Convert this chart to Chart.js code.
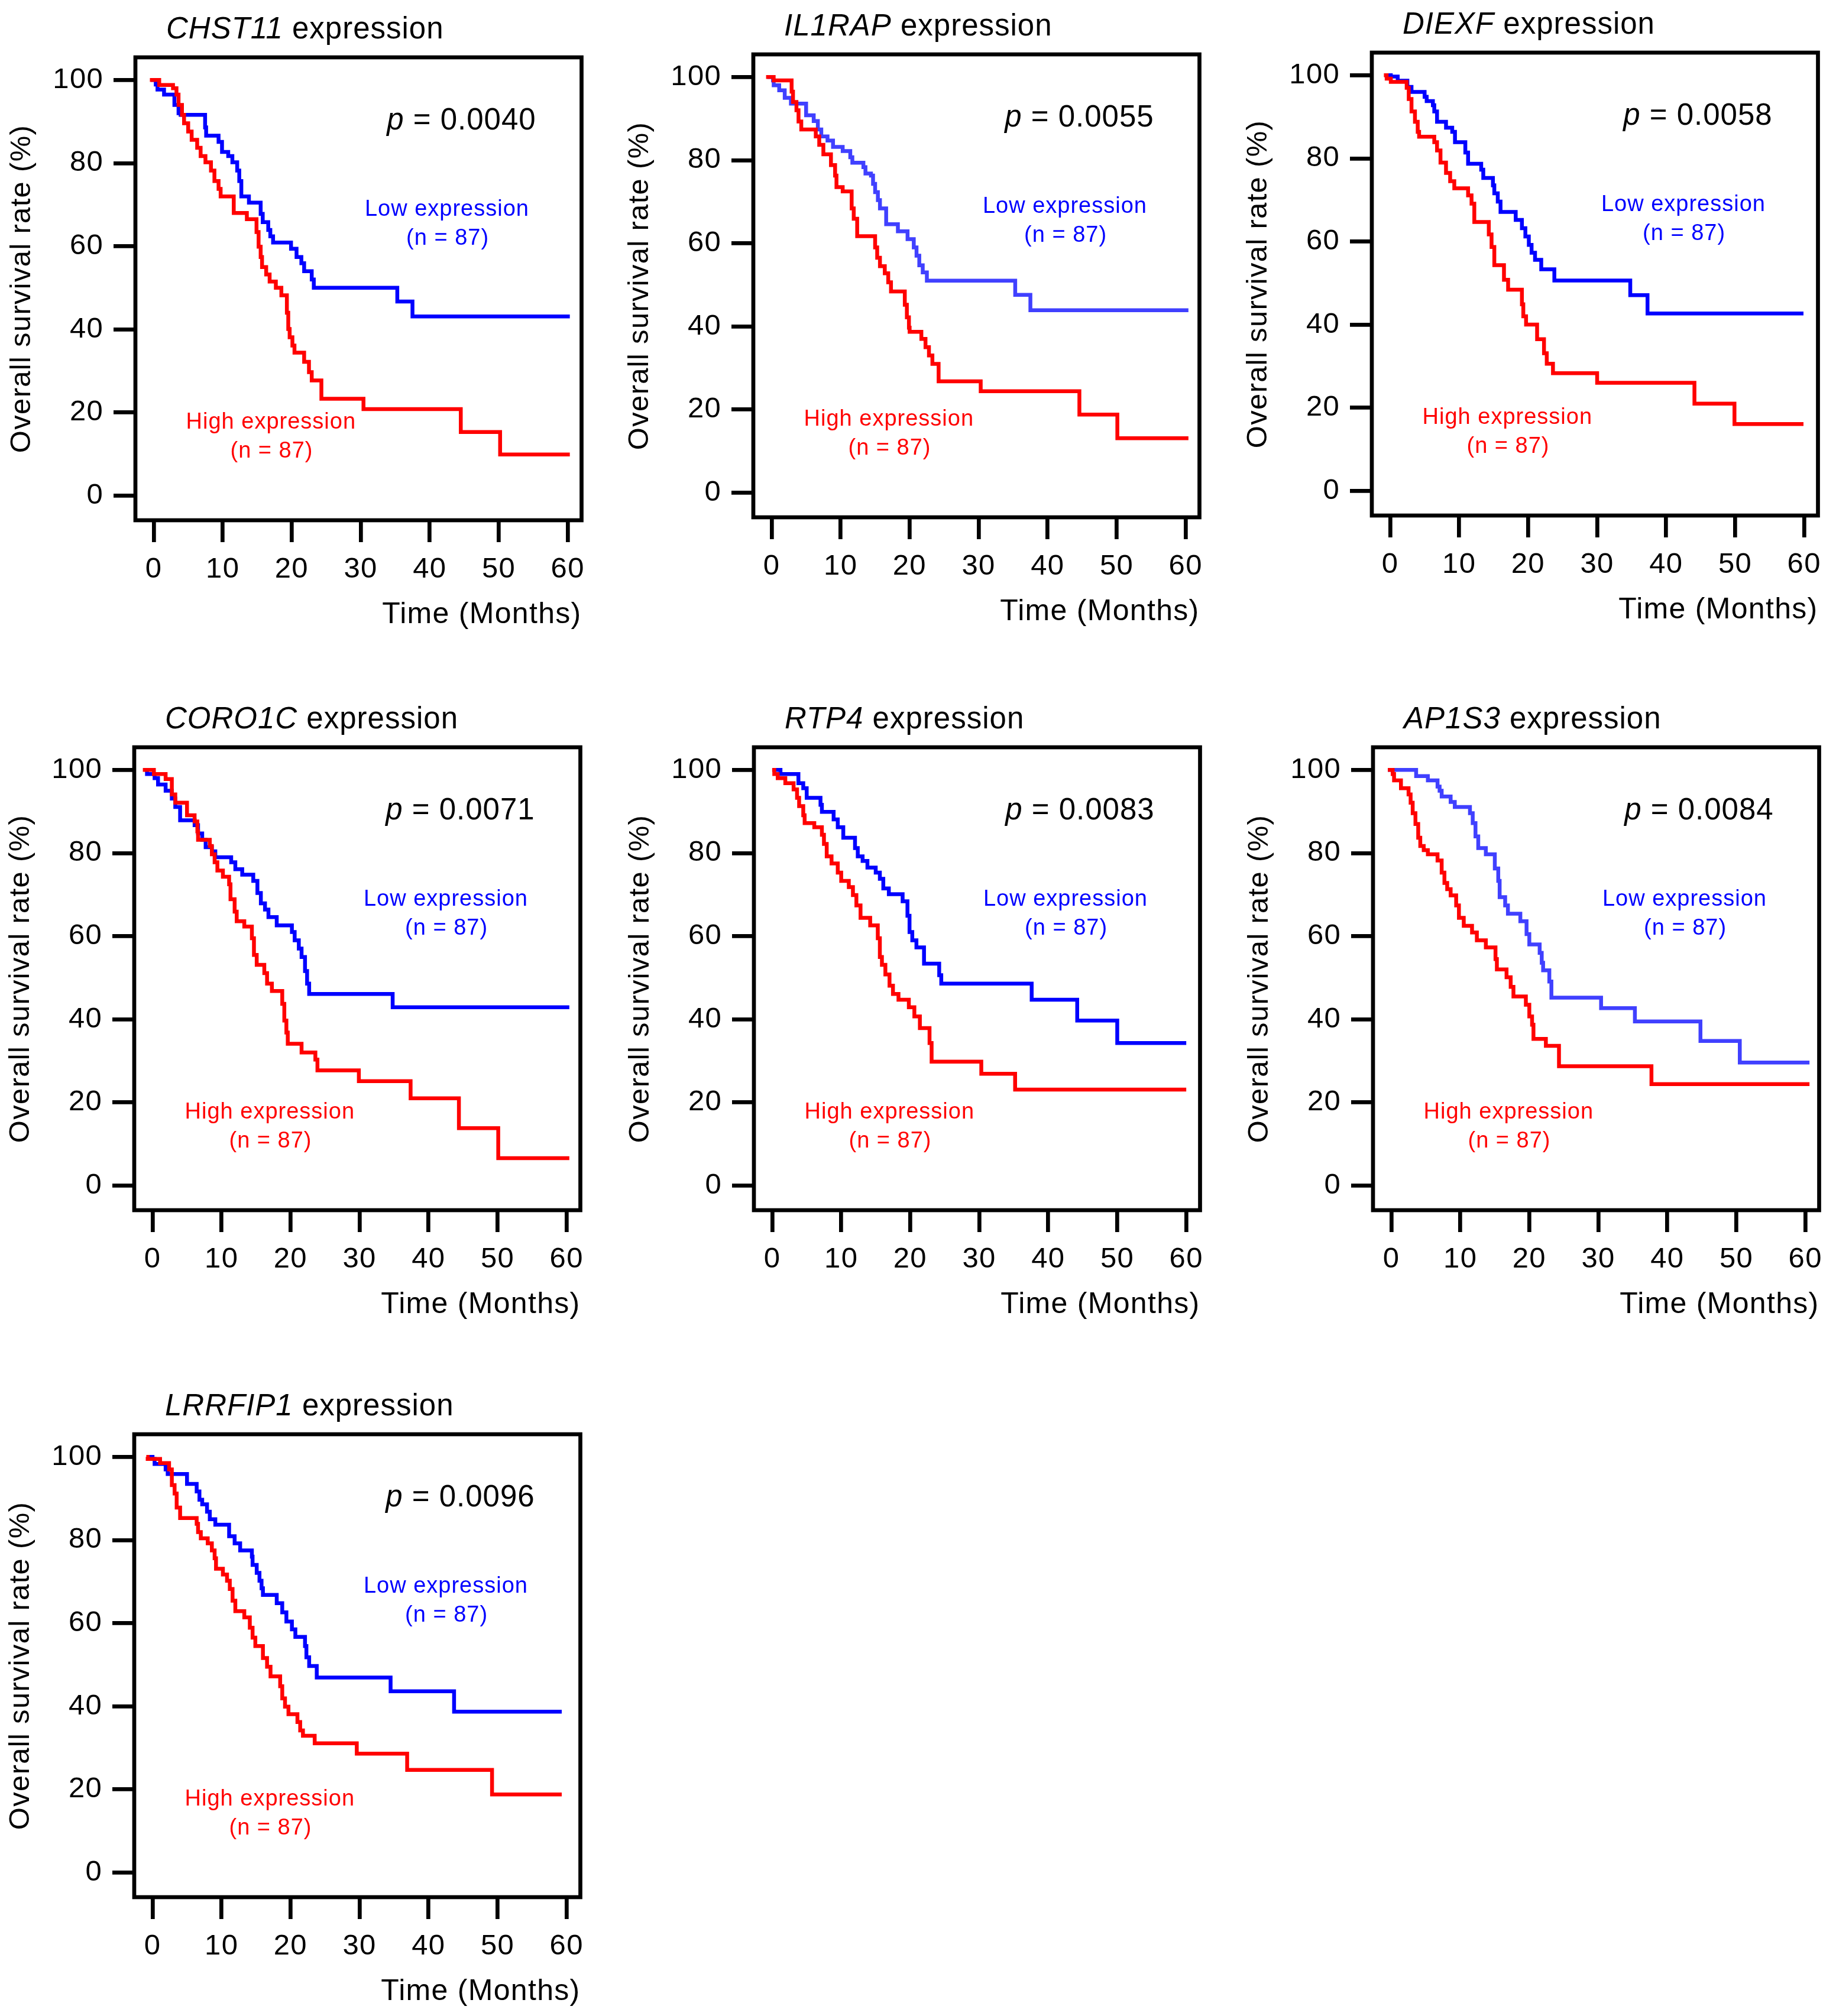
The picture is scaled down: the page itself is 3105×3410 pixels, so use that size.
<!DOCTYPE html>
<html>
<head>
<meta charset="utf-8">
<script src="https://cdn.jsdelivr.net/npm/chart.js@4.4.1/dist/chart.umd.min.js"></script>
<style>
  html, body { margin: 0; padding: 0; background: #fff; }
  body { width: 3105px; height: 3410px; position: relative; overflow: hidden; }
  .panel { position: absolute; width: 1000px; height: 1080px; }
</style>
</head>
<body>
<div id="wrap"></div>
<script>
// Axis ticks shared by all panels
const xTicks = [0, 10, 20, 30, 40, 50, 60];
const yTicks = [0, 20, 40, 60, 80, 100];

const genes = ['CHST11', 'IL1RAP', 'DIEXF', 'CORO1C', 'RTP4', 'AP1S3', 'LRRFIP1'];
const pValues = ['0.0040', '0.0055', '0.0058', '0.0071', '0.0083', '0.0084', '0.0096'];
const groupN = 87;

// Kaplan-Meier steps: [month, survival %]
const chst11Low = [[-0.4,100],[0.3,98.9],[0.55,97.7],[1.5,96.5],[3.0,94],[3.6,92],[3.9,91.6],[7.45,88.6],[7.6,86.6],[9.4,85.1],[9.9,82.7],[10.8,81.7],[11.4,80.2],[12.1,78.2],[12.4,75.7],[12.7,72],[13.8,70.5],[15.5,67.8],[15.8,65.8],[16.6,63.9],[16.9,62.4],[17.3,60.9],[19.9,59.4],[20.7,57.4],[21.4,55.9],[21.8,54],[22.9,52],[23.2,50],[35.3,46.7],[37.5,43.1],[60.3,43.1]];
const chst11High = [[-0.55,100],[0.8,98.8],[2.8,98],[3.3,96.5],[3.6,94],[4.1,91.6],[4.4,89.6],[5.0,87.6],[5.5,85.6],[6.3,83.7],[6.8,81.7],[7.5,80.2],[8.3,78.2],[8.8,75.7],[9.4,73.8],[9.7,72],[11.6,68],[13.5,66.5],[14.9,63.4],[15.2,59.9],[15.5,57.4],[15.7,55],[16.3,53.2],[16.8,51.5],[17.7,50],[18.5,48.2],[19.3,44],[19.5,40.1],[19.7,38.1],[20.1,36.1],[20.4,34.4],[21.8,32.2],[22.5,29.7],[22.9,27.7],[24.3,23.3],[30.4,20.8],[44.5,15.3],[50.2,9.9],[60.3,9.9]];

const il1rapLow = [[-0.6,100],[0.2,99.2],[0.3,98],[1.1,96.8],[1.9,95],[2.8,93.6],[5.0,90.8],[6.1,89.4],[6.7,87.4],[7.2,85.7],[8.1,84.7],[8.9,83.2],[10.3,82.2],[11.4,80.7],[11.7,79.4],[13.3,78.3],[13.6,76.8],[14.4,76.3],[14.7,74.3],[15.0,72.3],[15.4,70.4],[15.7,68.4],[16.6,64.6],[18.3,62.9],[19.7,61],[20.6,59],[21.0,57],[21.4,54.7],[21.9,53],[22.5,51],[35.3,47.6],[37.5,43.9],[60.4,43.9]];
const il1rapHigh = [[-0.8,100],[0.3,99.2],[2.9,96.5],[3.1,94],[3.6,92],[3.9,89.3],[4.3,87.4],[6.4,85.7],[6.9,83.7],[7.5,81.4],[8.6,78.8],[9.2,76.3],[9.4,73.5],[10.3,72.5],[11.6,68.4],[11.9,65.9],[12.4,61.7],[15.0,59],[15.3,56.5],[15.7,54.5],[16.4,52.8],[16.9,50.6],[17.3,48.4],[19.3,45.2],[19.6,42.2],[19.9,39.7],[20.0,38.7],[21.7,37],[22.3,35],[22.8,33],[23.3,31],[24.2,26.8],[30.3,24.4],[44.6,18.8],[50.1,13.1],[60.4,13.1]];

const diexfLow = [[-0.8,100],[0.1,99.7],[1.1,98.7],[2.5,97.2],[3.1,96],[5.0,94.8],[5.3,93.8],[6.2,92.8],[6.4,91.3],[6.8,88.8],[8.1,87.4],[9.0,86.4],[9.4,83.9],[10.9,81.4],[11.3,78.7],[13.2,77.3],[13.5,75.3],[14.9,73.5],[15.1,71.6],[15.6,69.6],[16.0,67.1],[18.2,65.2],[19.1,63.2],[19.6,61.2],[20.1,59.2],[20.5,57.3],[21.0,55.6],[21.9,53.3],[23.8,50.6],[34.8,47.1],[37.3,42.7],[59.9,42.7]];
const diexfHigh = [[-0.9,100],[-0.5,99.2],[0.1,98.4],[2.4,97],[2.7,94.3],[3.1,91.3],[3.6,88.8],[4.0,86.4],[4.2,85.2],[6.4,83.9],[6.8,81.9],[7.3,79],[8.1,76.5],[8.7,74.5],[9.3,72.8],[11.3,71.1],[11.8,69.1],[12.2,64.7],[14.3,61.7],[14.7,58.7],[15.1,54.3],[16.5,50.8],[17.1,48.4],[19.1,44.9],[19.3,42],[19.7,40],[21.3,36.5],[22.3,33.1],[22.7,30.6],[23.6,28.3],[30.0,26],[44.1,21],[49.9,16.1],[59.9,16.1]];

const coro1cLow = [[-1.1,100],[-0.8,99],[0.3,98],[0.8,96.5],[1.9,95],[2.8,93.1],[3.3,91.1],[4.0,87.9],[6.1,86.7],[6.6,84.7],[7.2,83.2],[7.7,81.4],[8.6,80.4],[9.1,79],[11.4,77.8],[12.0,76.1],[13.0,74.8],[14.6,73.3],[15.2,70.4],[15.7,67.9],[16.3,66.4],[16.8,64.6],[18.0,62.6],[20.2,61],[20.6,59],[21.2,57],[21.6,55],[22.1,51.6],[22.4,48.6],[22.7,46.1],[34.8,42.9],[60.4,42.9]];
const coro1cHigh = [[-1.4,100],[0.2,99],[1.9,97.8],[2.8,94.1],[3.3,92.1],[5.0,89.1],[6.1,87.6],[6.5,85.2],[6.6,83.2],[8.3,81.7],[8.6,79.7],[9.0,77.8],[9.4,75.8],[10.2,74.3],[11.1,72.5],[11.3,68.9],[11.9,65.9],[12.2,63.6],[13.3,62.3],[14.4,59.5],[14.7,55.5],[15.1,53.1],[16.2,51.1],[16.6,48.6],[17.3,46.8],[18.8,43.7],[19.1,39.7],[19.4,36.8],[19.6,34.1],[21.6,32],[23.6,30.3],[23.9,27.7],[29.9,25.1],[37.4,21],[44.4,13.8],[50.1,6.6],[60.4,6.6]];

const rtp4Low = [[0,100],[1.2,99],[3.8,96.8],[4.5,95.6],[5.0,93.3],[7.0,91.6],[7.2,89.9],[8.9,88.1],[9.5,86.2],[10.3,83.7],[12.0,81.2],[12.4,79.2],[13.1,78.1],[13.8,76.5],[15.0,75.3],[15.6,73.8],[16.1,71.5],[16.9,70.1],[18.9,68.4],[19.6,64.9],[19.9,61],[20.3,59],[20.9,57.3],[22.0,53.4],[24.2,50.6],[24.5,48.6],[37.6,44.7],[44.2,39.7],[50.0,34.3],[60.0,34.3]];
const rtp4High = [[0,100],[0.3,99],[0.8,98],[1.9,96.8],[3.1,95.3],[3.6,93.3],[3.9,91.3],[4.5,89.1],[4.7,87.2],[6.1,86.2],[7.2,84.4],[7.5,82.2],[7.9,79.2],[8.6,77.5],[9.5,75.3],[10.0,73.3],[11.1,71.8],[11.7,69.9],[12.2,67.4],[12.8,64.4],[14.2,62.6],[15.3,59.5],[15.6,55],[15.9,53.1],[16.4,50.8],[17.0,48.1],[17.5,46.1],[18.3,44.7],[19.8,42.9],[20.6,40.7],[21.4,37.9],[22.8,34.3],[23.1,29.8],[30.3,26.9],[35.2,23.1],[60.0,23.1]];

const ap1s3Low = [[-0.5,100],[3.6,98.5],[5.3,97.5],[6.7,96],[7.0,95],[7.3,93.6],[8.6,92.3],[9.2,91.1],[11.4,89.6],[11.8,87.2],[12.2,84],[12.6,81.2],[13.7,79.7],[15.0,76.3],[15.5,73.3],[15.7,69.4],[16.5,67.4],[16.9,65.4],[18.7,63.6],[19.6,60.5],[20.0,58],[21.5,56],[21.8,53.6],[22.0,51.8],[22.9,49.1],[23.2,45.2],[30.4,42.7],[35.3,39.5],[44.8,34.8],[50.5,29.6],[60.6,29.6]];
const ap1s3High = [[-0.5,100],[0.2,99],[0.4,97.5],[1.4,95.6],[2.5,94.1],[2.8,92.1],[3.1,89.6],[3.5,87],[3.9,83.7],[4.2,81.7],[4.7,80.7],[5.3,79.7],[6.7,78.2],[7.3,75.3],[7.7,72.8],[8.1,71.3],[8.6,69.8],[9.4,67.4],[9.8,64.4],[10.5,62.5],[11.7,60.9],[12.4,59],[13.7,57.3],[15.1,54.5],[15.3,52],[16.7,50.1],[17.3,47.8],[17.7,45.5],[19.5,43.5],[20.0,40.7],[20.4,38.7],[20.6,35.3],[22.4,33.6],[24.3,28.7],[37.7,24.4],[60.6,24.4]];

const lrrfip1Low = [[-0.6,100],[0.0,99.5],[0.3,98.3],[1.9,97],[2.2,95.9],[5.0,93.5],[6.4,91.7],[6.8,89.7],[7.2,88.6],[7.9,86.8],[8.3,85],[9.1,83.7],[11.1,80.9],[11.9,79.2],[12.7,77.5],[14.4,76],[14.5,74],[15.1,72.1],[15.5,70.2],[15.8,68.4],[16.0,66.8],[18.0,64.8],[18.8,62.6],[19.4,60.4],[20.2,58.5],[20.7,56.7],[22.1,54.5],[22.3,51.8],[22.7,49.7],[23.8,46.9],[34.5,43.6],[43.7,38.7],[59.3,38.7]];
const lrrfip1High = [[-0.9,100],[-0.7,99.5],[1.1,98.5],[2.4,97],[2.8,93.2],[3.2,91.2],[3.5,87.8],[4.0,85.3],[6.4,83.9],[6.6,81.9],[7.0,80.4],[8.0,79.2],[8.6,77.5],[9.0,75.6],[9.2,73.1],[10.2,71.7],[10.8,70.2],[11.2,68.2],[11.6,65.4],[12.0,62.9],[13.3,61.4],[14.1,58.9],[14.5,56.5],[14.9,54.5],[16.0,51.6],[16.6,49.5],[17.1,47.2],[18.5,44.8],[18.8,41.9],[19.2,39.9],[19.7,38.1],[21.0,36.2],[21.4,34.2],[21.8,32.9],[23.5,31.1],[29.6,28.6],[36.9,24.7],[49.2,18.8],[59.3,18.8]];

const lowSeries = [chst11Low, il1rapLow, diexfLow, coro1cLow, rtp4Low, ap1s3Low, lrrfip1Low];
const highSeries = [chst11High, il1rapHigh, diexfHigh, coro1cHigh, rtp4High, ap1s3High, lrrfip1High];

// panel placement on the page (canvas top-left)
const panelPos = [[0, 0], [1045, -5], [2091, -8], [-2, 1167], [1046, 1167], [2093, 1167], [-2, 2329]];
const lowColors = ['#0000ff', '#4040ff', '#0000ff', '#0000ff', '#0000ff', '#4040ff', '#0000ff'];

const FONT = "'Liberation Sans', Arial, Helvetica, sans-serif";
Chart.defaults.font.family = FONT;
Chart.defaults.color = '#000';

// frame + annotations
const kmDecor = {
    id: 'kmDecor',
    beforeDraw(chart) {
        // the original lettering runs a little wider than Arial
        chart.ctx.letterSpacing = '1.3px';
    },
    afterDraw(chart, args, opts) {
        const ctx = chart.ctx;
        const a = chart.chartArea;
        const xs = chart.scales.x, ys = chart.scales.y;
        ctx.save();
        ctx.strokeStyle = '#000';
        ctx.lineWidth = 6.7;
        ctx.lineJoin = 'miter';
        ctx.strokeRect(a.left, a.top, a.right - a.left, a.bottom - a.top);

        ctx.textBaseline = 'middle';
        ctx.fillStyle = '#000';
        ctx.letterSpacing = '1px';

        // title: italic gene name + " expression"
        ctx.textAlign = 'left';
        ctx.font = 'italic 51px ' + FONT;
        const gw = ctx.measureText(opts.gene).width;
        ctx.fillText(opts.gene, a.left + 52, a.top - 46);
        ctx.font = '51px ' + FONT;
        ctx.fillText(' expression', a.left + 52 + gw, a.top - 46);

        // p value
        const px = xs.getPixelForValue(44.6), py = ys.getPixelForValue(90.1);
        ctx.font = 'italic 51px ' + FONT;
        const pw = ctx.measureText('p').width;
        ctx.font = '51px ' + FONT;
        const rest = ' = ' + opts.p;
        const rw = ctx.measureText(rest).width;
        const x0 = px - (pw + rw) / 2;
        ctx.font = 'italic 51px ' + FONT;
        ctx.fillText('p', x0, py);
        ctx.font = '51px ' + FONT;
        ctx.fillText(rest, x0 + pw, py);

        // group labels
        ctx.textAlign = 'center';
        ctx.font = '38px ' + FONT;
        ctx.fillStyle = '#0000ff';
        ctx.fillText('Low expression', xs.getPixelForValue(42.5), ys.getPixelForValue(68.8));
        ctx.fillText('(n = ' + groupN + ')', xs.getPixelForValue(42.6), ys.getPixelForValue(61.9));
        ctx.fillStyle = '#ff0000';
        ctx.fillText('High expression', xs.getPixelForValue(17.0), ys.getPixelForValue(17.6));
        ctx.fillText('(n = ' + groupN + ')', xs.getPixelForValue(17.1), ys.getPixelForValue(10.6));
        ctx.restore();
    }
};

const toPts = arr => arr.map(d => ({ x: d[0], y: d[1] }));

genes.forEach((gene, i) => {
    const div = document.createElement('div');
    div.className = 'panel';
    div.style.left = panelPos[i][0] + 'px';
    div.style.top = panelPos[i][1] + 'px';
    const canvas = document.createElement('canvas');
    canvas.width = 1000;
    canvas.height = 1080;
    div.appendChild(canvas);
    document.getElementById('wrap').appendChild(div);

    const lineStyle = { showLine: true, stepped: true, pointRadius: 0, borderWidth: 6.5, fill: false,
                        borderJoinStyle: 'miter', borderCapStyle: 'butt' };

    new Chart(canvas.getContext('2d'), {
        type: 'scatter',
        data: {
            datasets: [
                Object.assign({ label: 'High expression', data: toPts(highSeries[i]), borderColor: '#ff0000' }, lineStyle),
                Object.assign({ label: 'Low expression', data: toPts(lowSeries[i]), borderColor: lowColors[i] }, lineStyle)
            ]
        },
        options: {
            responsive: false,
            devicePixelRatio: 1,
            animation: false,
            layout: { autoPadding: false, padding: { top: 97, right: 16.5, bottom: 0, left: 0 } },
            plugins: {
                legend: { display: false },
                tooltip: { enabled: false },
                kmDecor: { gene: gene, p: pValues[i] }
            },
            scales: {
                x: {
                    type: 'linear',
                    min: -2.65,
                    max: 62.0,
                    afterBuildTicks: s => { s.ticks = xTicks.map(v => ({ value: v })); },
                    afterFit: s => { s.height = 200; s.paddingLeft = 0; s.paddingRight = 0; },
                    ticks: { font: { size: 49 }, color: '#000', padding: 17, maxRotation: 0, autoSkip: false },
                    grid: { display: true, drawOnChartArea: false, drawTicks: true, tickLength: 37, lineWidth: 6.7, color: '#000' },
                    border: { display: false },
                    title: { display: true, text: 'Time (Months)', align: 'end', color: '#000',
                             font: { size: 50 }, padding: { top: 0, bottom: 10 } }
                },
                y: {
                    type: 'linear',
                    min: -5.93,
                    max: 105.45,
                    afterBuildTicks: s => { s.ticks = yTicks.map(v => ({ value: v })); },
                    afterFit: s => { s.width = 229; s.paddingTop = 0; s.paddingBottom = 0; },
                    ticks: { font: { size: 49 }, color: '#000', padding: 17, autoSkip: false },
                    grid: { display: true, drawOnChartArea: false, drawTicks: true, tickLength: 37, lineWidth: 6.7, color: '#000' },
                    border: { display: false },
                    title: { display: true, text: 'Overall survival rate (%)', color: '#000',
                             font: { size: 49 }, padding: { top: 8, bottom: 0 } }
                }
            }
        },
        plugins: [kmDecor]
    });
});
</script>
</body>
</html>
